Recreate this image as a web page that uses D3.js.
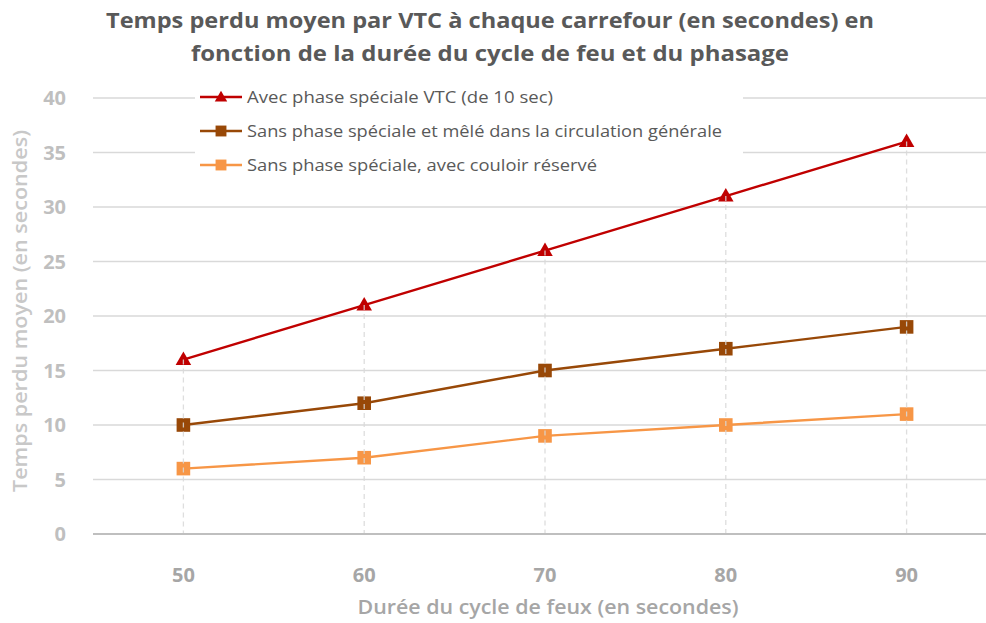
<!DOCTYPE html>
<html><head><meta charset="utf-8">
<script src="https://cdn.jsdelivr.net/npm/d3@7"></script>
<style>body{margin:0;background:#fff}svg{display:block}</style>
</head><body><svg id="c" width="986" height="623"></svg>
<script>
const categories = [50, 60, 70, 80, 90];
const seriesNames = [
  "Avec phase spéciale VTC (de 10 sec)",
  "Sans phase spéciale et mêlé dans la circulation générale",
  "Sans phase spéciale, avec couloir réservé"
];
const avecPhase = [16, 21, 26, 31, 36];
const sansPhaseMele = [10, 12, 15, 17, 19];
const sansPhaseCouloir = [6, 7, 9, 10, 11];
const yTicks = [0, 5, 10, 15, 20, 25, 30, 35, 40];
const titleLines = ["Temps perdu moyen par VTC à chaque carrefour (en secondes) en",
                    "fonction de la durée du cycle de feu et du phasage"];
const xTitle = "Durée du cycle de feux (en secondes)";
const yTitle = "Temps perdu moyen (en secondes)";

(function () {
const series = [
  {name: seriesNames[0], values: avecPhase, color: "#c00000", marker: "tri", w: 306},
  {name: seriesNames[1], values: sansPhaseMele, color: "#984807", marker: "sq", w: 475},
  {name: seriesNames[2], values: sansPhaseCouloir, color: "#f79646", marker: "sq", w: 350}
];

const svg = d3.select("#c");
const font = "'Open Sans', 'Noto Sans', sans-serif";
const pLeft = 93, pRight = 986, pTop = 98, pBottom = 534;

const x = d3.scalePoint().domain(categories).range([pLeft, 997]).padding(0.5);
const y = d3.scaleLinear().domain([0, 40]).range([pBottom, pTop]);

svg.append("g").selectAll("line").data(yTicks.filter(d => d > 0)).join("line")
  .attr("x1", pLeft).attr("x2", pRight)
  .attr("y1", d => y(d)).attr("y2", d => y(d))
  .attr("stroke", "#d9d9d9").attr("stroke-width", 1.3);

svg.append("line").attr("x1", pLeft).attr("x2", pRight).attr("y1", y(0)).attr("y2", y(0))
  .attr("stroke", "#bfbfbf").attr("stroke-width", 2);

svg.append("g").selectAll("text").data(yTicks).join("text")
  .attr("x", 66).attr("y", d => y(d)).attr("dy", "0.35em")
  .attr("text-anchor", "end").attr("font-family", font).attr("font-weight", "bold")
  .attr("font-size", 20).attr("fill", "#bfbfbf").text(d => d);

svg.append("g").selectAll("text").data(categories).join("text")
  .attr("x", d => x(d)).attr("y", 575).attr("dy", "0.35em")
  .attr("text-anchor", "middle").attr("font-family", font).attr("font-weight", "bold")
  .attr("font-size", 20).attr("fill", "#a6a6a6").text(d => d);

svg.append("text").attr("x", 548).attr("y", 607).attr("dy", "0.35em")
  .attr("text-anchor", "middle").attr("font-family", font).attr("font-weight", "600")
  .attr("font-size", 19).attr("fill", "#a6a6a6").text(xTitle)
  .attr("textLength", 381).attr("lengthAdjust", "spacingAndGlyphs");
svg.append("text").attr("transform", "translate(20,311) rotate(-90)").attr("dy", "0.35em")
  .attr("text-anchor", "middle").attr("font-family", font).attr("font-weight", "600")
  .attr("font-size", 19).attr("fill", "#c8c8c8").text(yTitle)
  .attr("textLength", 362).attr("lengthAdjust", "spacingAndGlyphs");

svg.append("g").selectAll("text").data(titleLines).join("text")
  .attr("x", 490).attr("y", (d, i) => 21 + i * 33).attr("dy", "0.35em")
  .attr("text-anchor", "middle").attr("font-family", font).attr("font-weight", "bold")
  .attr("font-size", 21).attr("fill", "#595959").text(d => d)
  .attr("textLength", (d, i) => i === 0 ? 768 : 598)
  .attr("lengthAdjust", "spacingAndGlyphs");

svg.append("rect").attr("x", 195).attr("y", 80).attr("width", 548).attr("height", 105).attr("fill", "#fff");

function drawMarker(g, s, cx, cy, k) {
  k = k || 1;
  if (s.marker === "tri") {
    g.append("path").attr("d", d3.symbol().type(d3.symbolTriangle).size(105 * k * k)())
      .attr("transform", `translate(${cx},${cy + 1})`).attr("fill", s.color);
  } else {
    g.append("path").attr("d", d3.symbol().type(d3.symbolSquare).size(185 * k * k)())
      .attr("transform", `translate(${cx},${cy})`).attr("fill", s.color);
  }
}

const line = d3.line().x((d, i) => x(categories[i])).y(d => y(d));
series.forEach(s => {
  svg.append("path").attr("d", line(s.values)).attr("fill", "none")
    .attr("stroke", s.color).attr("stroke-width", 2.4);
});
series.forEach(s => {
  const g = svg.append("g");
  s.values.forEach((v, i) => drawMarker(g, s, x(categories[i]), y(v)));
});

svg.append("g").selectAll("line").data(categories).join("line")
  .attr("x1", d => x(d)).attr("x2", d => x(d))
  .attr("y1", (d, i) => y(d3.max(series, s => s.values[i])))
  .attr("y2", pBottom - 1)
  .attr("stroke", "#d9d9d9").attr("stroke-width", 1.3).attr("stroke-dasharray", "5,4")
  .attr("opacity", 0.85);

series.forEach((s, i) => {
  const ly = 97 + i * 34;
  const g = svg.append("g");
  g.append("line").attr("x1", 200).attr("x2", 242).attr("y1", ly).attr("y2", ly)
    .attr("stroke", s.color).attr("stroke-width", 2.4);
  drawMarker(g, s, 221, ly, 0.8);
  g.append("text").attr("x", 247).attr("y", ly).attr("dy", "0.35em")
    .attr("font-family", font).attr("font-size", 17).attr("fill", "#595959")
    .text(s.name).attr("textLength", s.w).attr("lengthAdjust", "spacingAndGlyphs");
});
})();
</script></body></html>
